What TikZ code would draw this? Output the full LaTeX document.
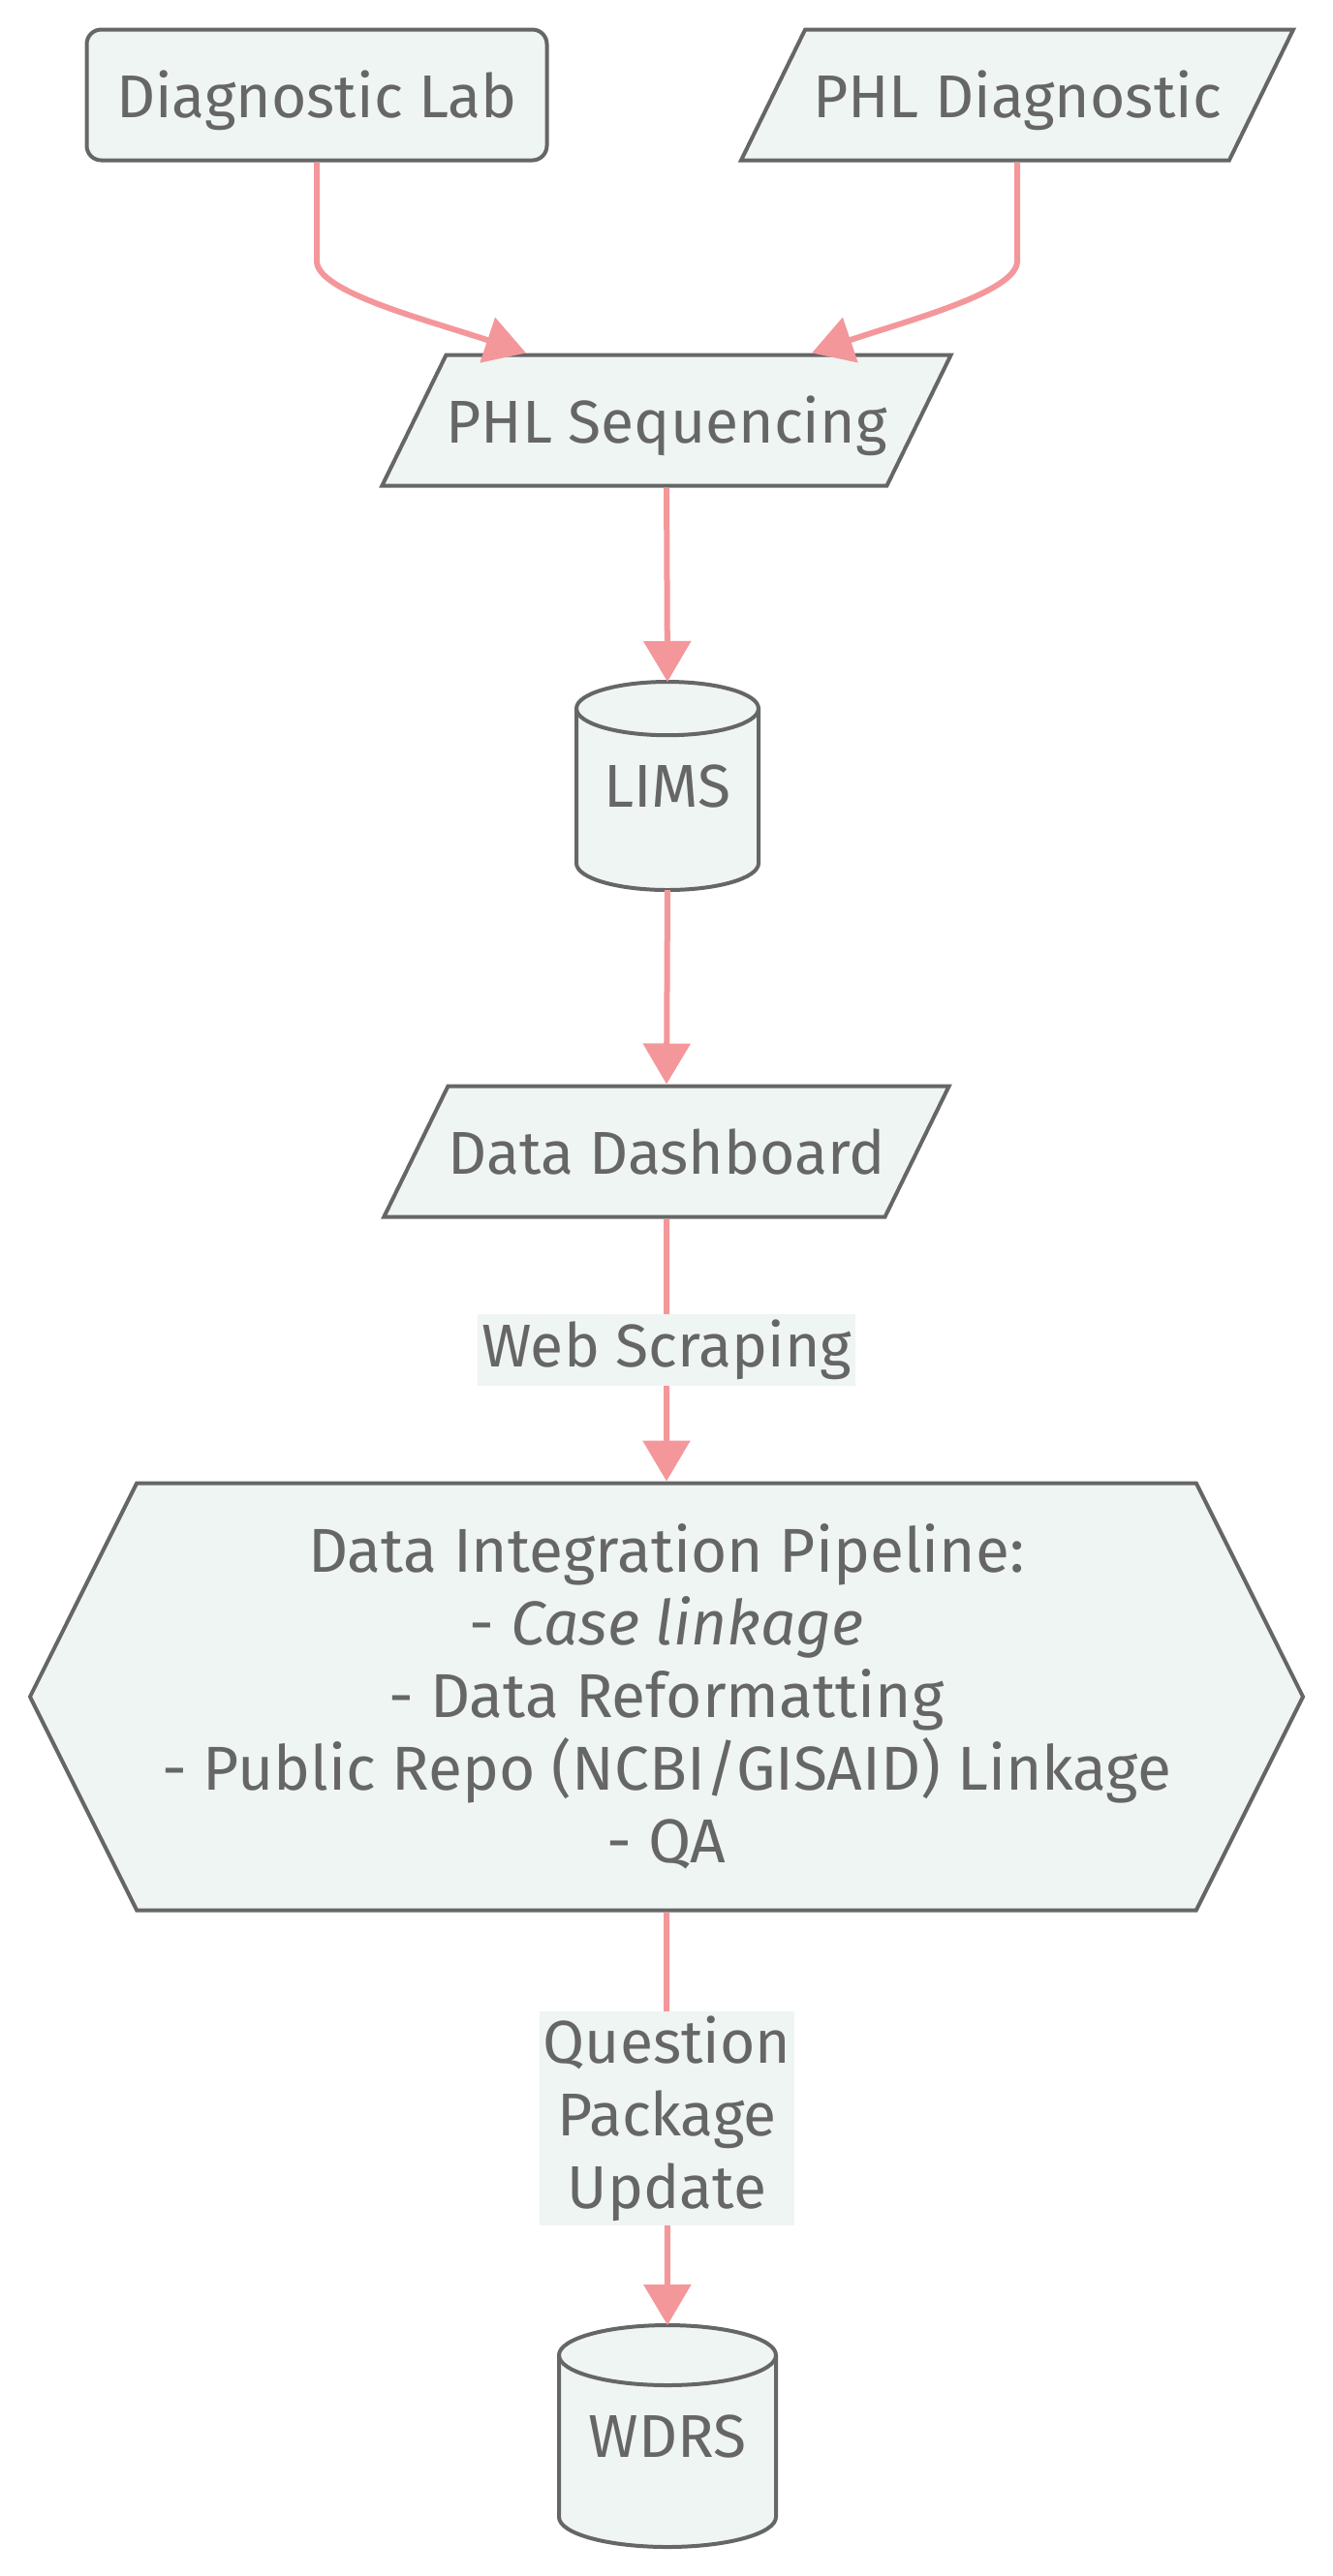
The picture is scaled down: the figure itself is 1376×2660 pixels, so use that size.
\documentclass[tikz,border=0pt]{standalone}
\usepackage{fontspec}
\setmainfont{Fira Sans}
\usetikzlibrary{shapes,arrows.meta,positioning,calc,backgrounds}

\definecolor{nodefill}{HTML}{EFF5F2}
\definecolor{nodeline}{HTML}{666666}
\definecolor{nodetext}{HTML}{666666}
\definecolor{linkpink}{HTML}{F4979B}

\tikzset{
    box/.style={draw=nodeline, line width=1pt, fill=nodefill, text=nodetext},
    labbox/.style={box, rounded corners=3.75pt, text height=13.5pt, text depth=2pt,
        minimum width=118.75pt, minimum height=33.75pt},
    slant/.style={box, trapezium, trapezium left angle=63.9, trapezium right angle=116.1,
        trapezium stretches body, text height=13.5pt, text depth=2pt, inner ysep=9.125pt,
        inner xsep=0pt, minimum width=142.5pt, minimum height=33.75pt},
    db/.style={text=nodetext, inner sep=0pt, outer sep=0pt},
    pipe/.style={box, signal, signal to=west and east, signal pointer angle=126.9,
        minimum width=328.5pt, minimum height=110.25pt, align=center,
        font=\fontsize{16}{18.75}\selectfont},
    link/.style={draw=linkpink, line width=1.5pt, -{Triangle[length=10.5pt,width=12pt]}},
    linklabel/.style={fill=nodefill, text=nodetext, inner xsep=1pt, inner ysep=1.1pt, align=center},
    oneline/.style={linklabel, text height=12.5pt, text depth=4pt}
}

\begin{document}
\begin{tikzpicture}[x=0.25pt, y=-0.25pt, font=\fontsize{15.6}{18.75}\selectfont]
    \useasboundingbox (0,0) rectangle (1376,2660);

    % Sources
    \node[labbox] (lab) at (327,98) {Diagnostic Lab};
    \node[slant] (phld) at (1050,98) {PHL Diagnostic};

    % Sequencing and storage
    \node[slant] (seq) at (688,434) {PHL Sequencing};
    \node[db, minimum width=47pt, minimum height=53.75pt] (lims) at (689,811.5) {LIMS};
    \node[slant] (dash) at (688,1189) {Data Dashboard};

    % Pipeline
    \node[pipe] (pipe) at (688,1752) {Data Integration Pipeline:\\- \textit{Case linkage}\\- Data Reformatting\\- Public Repo (NCBI/GISAID) Linkage\\- QA};
    \node[db, minimum width=56pt, minimum height=57.25pt] (wdrs) at (689,2515.5) {WDRS};

    % Cylinders behind the database labels
    \begin{scope}[on background layer]
        \draw[box] ($(lims.north west)+(0pt,-6.9pt)$) -- ($(lims.south west)+(0pt,6.9pt)$)
            arc[start angle=180, end angle=360, x radius=23.5pt, y radius=6.9pt]
            -- ($(lims.north east)+(0pt,-6.9pt)$)
            arc[start angle=0, end angle=180, x radius=23.5pt, y radius=6.9pt] -- cycle;
        \draw[box, fill=none] ($(lims.north west)+(0pt,-6.9pt)$)
            arc[start angle=180, end angle=360, x radius=23.5pt, y radius=6.9pt];
        \draw[box] ($(wdrs.north west)+(0pt,-7.75pt)$) -- ($(wdrs.south west)+(0pt,7.75pt)$)
            arc[start angle=180, end angle=360, x radius=28pt, y radius=7.75pt]
            -- ($(wdrs.north east)+(0pt,-7.75pt)$)
            arc[start angle=0, end angle=180, x radius=28pt, y radius=7.75pt] -- cycle;
        \draw[box, fill=none] ($(wdrs.north west)+(0pt,-7.75pt)$)
            arc[start angle=180, end angle=360, x radius=28pt, y radius=7.75pt];
    \end{scope}

    % Arrival points on top of sequencing
    \coordinate (seqa) at ($(seq.north)+(-145,0)$);
    \coordinate (seqb) at ($(seq.north)+(150,0)$);

    % Links
    \draw[link] (lab.south) -- ++(0,102) .. controls +(0,32) and (440,330) .. (seqa);
    \draw[link] (phld.south) -- ++(0,102) .. controls +(0,32) and (940,330) .. (seqb);
    \draw[link] (seq.south) -- (lims.north);
    \draw[link] (lims.south) -- (dash.north);
    \draw[link] (dash.south) -- node[oneline] (web) {Web Scraping} (pipe.north);
    \draw[link] (pipe.south) -- node[linklabel] (qpu) {Question\\Package\\Update} (wdrs.north);
\end{tikzpicture}
\end{document}
